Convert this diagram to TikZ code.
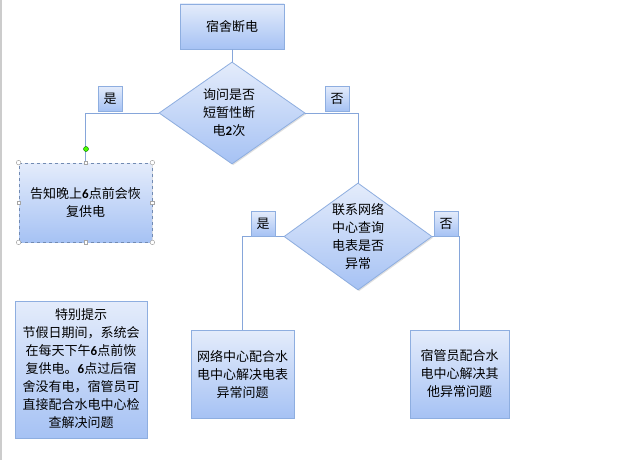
\documentclass[tikz,border=0pt]{standalone}
\usepackage{fontspec}
\setmainfont{Noto Sans CJK SC}
\newfontfamily\digf{Carlito}
\usetikzlibrary{shapes.geometric,shadows}
\definecolor{bordc}{HTML}{8EAEE0}
\definecolor{linec}{HTML}{86A6DA}
\definecolor{topc}{HTML}{E4ECFB}
\definecolor{botc}{HTML}{A6C2F4}
\newcommand{\dg}[1]{{\digf\bfseries #1}}
\begin{document}
\begin{tikzpicture}[x=1pt,y=-1pt,
  font=\fontsize{13}{18}\selectfont,
  boxs/.style={rectangle,draw=bordc,line width=0.8pt,top color=topc,bottom color=botc,
     drop shadow={opacity=0.25,shadow xshift=1.2pt,shadow yshift=-1.2pt},inner sep=0pt},
  dias/.style={diamond,draw=bordc,line width=0.8pt,top color=topc,bottom color=botc,
     drop shadow={opacity=0.25,shadow xshift=1.2pt,shadow yshift=-1.2pt},inner sep=0pt},
  txt/.style={align=center,inner sep=0pt},
  conn/.style={draw=linec,line width=0.8pt},
  hcirc/.style={circle,draw=gray!70,fill=white,inner sep=0pt,minimum size=4.5pt,line width=0.5pt},
  hsq/.style={rectangle,draw=gray!70,fill=white,inner sep=0pt,minimum size=3.5pt,line width=0.5pt}]
\useasboundingbox (0,0) rectangle (617,460);
\fill[white] (0,0) rectangle (617,460);
\draw[gray!40,line width=1.5pt] (1,0) -- (1,460);

% top box
\node[boxs,minimum width=104pt,minimum height=45pt] (top) at (232,26.5) {};
\node[txt] (toptxt) at (top.center) {宿舍断电};

% diamond 1
\node[dias,minimum width=146pt,minimum height=102pt] (d1) at (232,113) {};
\node[txt] (d1txt) at (229,113) {询问是否\\短暂性断\\电\dg{2}次};

% box left
\node[boxs,minimum width=133pt,minimum height=79pt,dashed,draw=bordc!80!black] (b1) at (85.5,202.5) {};
\node[txt] (b1txt) at (b1.center) {告知晚上\dg{6}点前会恢\\复供电};

% diamond 2
\node[dias,minimum width=148pt,minimum height=107pt] (d2) at (358,236.5) {};
\node[txt] (d2txt) at (358,236) {联系网络\\中心查询\\电表是否\\异常};

% bottom boxes
\node[boxs,minimum width=103pt,minimum height=88pt] (b3) at (242.5,374) {};
\node[txt] (b3txt) at (b3.center) {网络中心配合水\\电中心解决电表\\异常问题};
\node[boxs,minimum width=99pt,minimum height=88pt] (b4) at (459.5,374) {};
\node[txt] (b4txt) at (b4.center) {宿管员配合水\\电中心解决其\\他异常问题};

% note box
\node[boxs,minimum width=132pt,minimum height=137pt] (note) at (81,369.5) {};
\node[txt] (notetxt) at (81,369) {特别提示\\节假日期间，系统会\\在每天下午\dg{6}点前恢\\复供电。\dg{6}点过后宿\\舍没有电，宿管员可\\直接配合水电中心检\\查解决问题};

% connectors
\draw[conn] (top.south) -- (d1.north);
\draw[conn] (d1.west) -| (b1.north);
\draw[conn] (d1.east) -| (d2.north);
\draw[conn] (d2.west) -| (b3.north);
\draw[conn] (d2.east) -| (b4.north);

% yes/no labels
\node[boxs,minimum width=24pt,minimum height=25pt] (y1) at (110,98.5) {是};
\node[boxs,minimum width=24pt,minimum height=25pt] (n1) at (337,98.5) {否};
\node[boxs,minimum width=24pt,minimum height=25pt] (y2) at (263,223.5) {是};
\node[boxs,minimum width=24pt,minimum height=25pt] (n2) at (446,223.5) {否};

% selection handles
\node[circle,draw=green!40!black,fill=green!70!yellow,inner sep=0pt,minimum size=5pt,line width=0.4pt] (rot) at (86,149) {};
\node[hcirc] (h1) at (b1.north west) {};
\node[hcirc] (h2) at (b1.north east) {};
\node[hcirc] (h3) at (b1.south west) {};
\node[hcirc] (h4) at (b1.south east) {};
\node[hsq] (h5) at (b1.north) {};
\node[hsq] (h6) at (b1.south) {};
\node[hsq] (h7) at (b1.west) {};
\node[hsq] (h8) at (b1.east) {};
\end{tikzpicture}
\end{document}
